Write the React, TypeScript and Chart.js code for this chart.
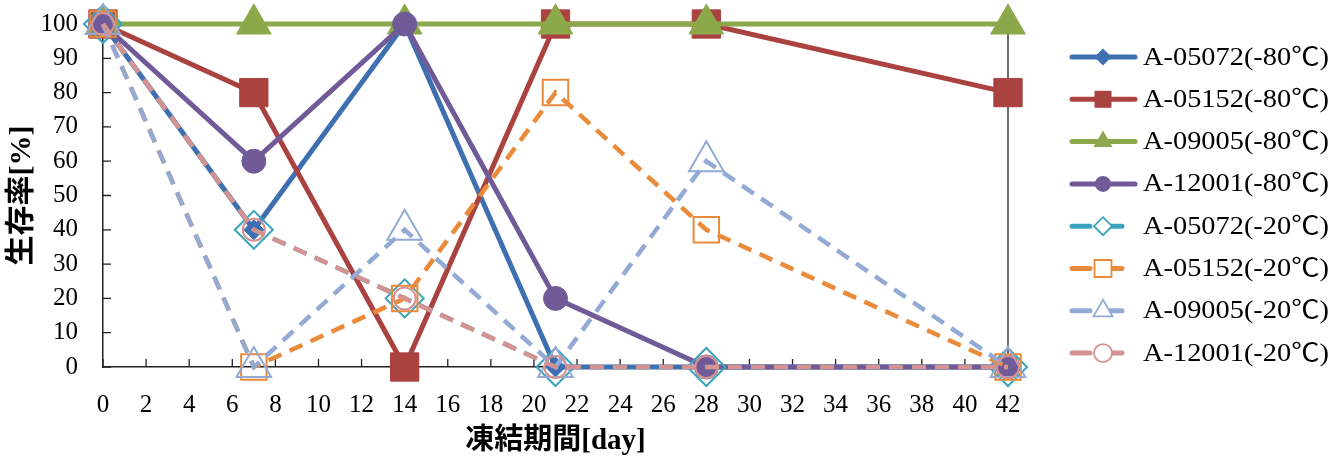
import React, { useEffect, useRef } from "react";
import { Chart, registerables } from "chart.js";

Chart.register(...registerables);

// ---- data ----
const days = [0, 7, 14, 21, 28, 42];
const seriesNames = [
  "A-05072(-80℃)",
  "A-05152(-80℃)",
  "A-09005(-80℃)",
  "A-12001(-80℃)",
  "A-05072(-20℃)",
  "A-05152(-20℃)",
  "A-09005(-20℃)",
  "A-12001(-20℃)",
];
const a05072m80 = [100, 40, 100, 0, 0, 0];
const a05152m80 = [100, 80, 0, 100, 100, 80];
const a09005m80 = [100, 100, 100, 100, 100, 100];
const a12001m80 = [100, 60, 100, 20, 0, 0];
const a05072m20 = [100, 40, 20, 0, 0, 0];
const a05152m20 = [100, 0, 20, 80, 40, 0];
const a09005m20 = [100, 0, 40, 0, 60, 0];
const a12001m20 = [100, 40, 20, 0, 0, 0];
const seriesValues = [a05072m80, a05152m80, a09005m80, a12001m80, a05072m20, a05152m20, a09005m20, a12001m20];

const xTitle = "凍結期間[day]";
const yTitle = "生存率[%]";

// ---- styles ----
const colors = ["#3E6FB0", "#AA4240", "#8BA94A", "#705A97", "#3AA3BD", "#E98B3A", "#93AAD5", "#D59290"];
const pointStyles = ["rectRot", "rect", "triangle", "circle", "rectRot", "rect", "triangle", "circle"];
const pointRadii = [10, 20, 20, 12, 19, 18, 20, 11];
const legendRadii = [8.5, 12, 11, 8, 9, 12, 11, 9];
const dashed = [false, false, false, false, true, true, true, true];

const FONT = "'Liberation Serif', 'Noto Sans CJK JP', serif";

function drawMarker(ctx: CanvasRenderingContext2D, style: string, x: number, y: number, r: number, color: string, filled: boolean) {
  ctx.beginPath();
  if (style === "circle") {
    ctx.arc(x, y, r, 0, Math.PI * 2);
  } else if (style === "rect") {
    const s = Math.SQRT1_2 * r;
    ctx.rect(x - s, y - s, 2 * s, 2 * s);
  } else if (style === "rectRot") {
    ctx.moveTo(x, y - r);
    ctx.lineTo(x + r, y);
    ctx.lineTo(x, y + r);
    ctx.lineTo(x - r, y);
    ctx.closePath();
  } else if (style === "triangle") {
    const a = (2 * Math.PI) / 3;
    for (let k = 0; k < 3; k++) {
      const px = x + Math.sin(k * a) * r;
      const py = y - Math.cos(k * a) * r;
      if (k === 0) ctx.moveTo(px, py);
      else ctx.lineTo(px, py);
    }
    ctx.closePath();
  }
  if (filled) {
    ctx.fillStyle = color;
    ctx.fill();
  } else {
    ctx.fillStyle = "#ffffff";
    ctx.fill();
    ctx.lineWidth = 1.8;
    ctx.strokeStyle = color;
    ctx.stroke();
  }
}

const frameAndTicks = {
  id: "frameAndTicks",
  beforeDatasetsDraw(chart: any) {
    const { ctx, chartArea, scales } = chart;
    const x = scales.x;
    const y = scales.y;
    ctx.save();
    ctx.strokeStyle = "#222";
    ctx.lineWidth = 1.3;
    ctx.beginPath();
    x.ticks.forEach((t: any) => {
      const px = x.getPixelForValue(t.value);
      ctx.moveTo(px, chartArea.bottom);
      ctx.lineTo(px, chartArea.bottom - 8);
    });
    y.ticks.forEach((t: any) => {
      const py = y.getPixelForValue(t.value);
      ctx.moveTo(chartArea.left, py);
      ctx.lineTo(chartArea.left + 8, py);
    });
    ctx.moveTo(chartArea.left, chartArea.top);
    ctx.lineTo(chartArea.right, chartArea.top);
    ctx.lineTo(chartArea.right, chartArea.bottom);
    ctx.stroke();
    ctx.restore();
  },
};

const customLegend = {
  id: "customLegend",
  afterDraw(chart: any) {
    const { ctx } = chart;
    ctx.save();
    const x0 = 1070;
    const x1solid = 1137;
    const x1dash = 1122;
    const mx = 1103;
    const tx = 1143;
    const textW = 186;
    seriesNames.forEach((name, i) => {
      const yy = 57 + i * 42.3;
      ctx.save();
      ctx.strokeStyle = colors[i];
      ctx.lineWidth = 5;
      ctx.lineCap = "round";
      ctx.beginPath();
      if (dashed[i]) {
        ctx.setLineDash([18, 14]);
        ctx.moveTo(x0 + 2, yy);
        ctx.lineTo(x1dash, yy);
      } else {
        ctx.moveTo(x0 + 2, yy);
        ctx.lineTo(x1solid - 2, yy);
      }
      ctx.stroke();
      ctx.restore();
      ctx.save();
      ctx.setLineDash([]);
      drawMarker(ctx, pointStyles[i], mx, yy, legendRadii[i], colors[i], !dashed[i]);
      ctx.restore();
      ctx.save();
      ctx.font = `25px ${FONT}`;
      ctx.fillStyle = "#000";
      ctx.textBaseline = "middle";
      const w = ctx.measureText(name).width;
      ctx.translate(tx, yy + 1);
      ctx.scale(textW / w, 1);
      ctx.fillText(name, 0, 0);
      ctx.restore();
    });
    ctx.restore();
  },
};

export default function App() {
  const ref = useRef<HTMLCanvasElement | null>(null);
  useEffect(() => {
    document.body.style.margin = "0";
    const canvas = ref.current;
    if (!canvas) return;
    const datasets = seriesNames.map((name, i) => ({
      label: name,
      data: days.map((d, j) => ({ x: d, y: seriesValues[i][j] })),
      borderColor: colors[i],
      backgroundColor: colors[i],
      borderWidth: dashed[i] ? 4.5 : 5,
      borderDash: dashed[i] ? [14, 9] : [],
      pointStyle: pointStyles[i],
      pointRadius: pointRadii[i],
      pointHoverRadius: pointRadii[i],
      pointBackgroundColor: dashed[i] ? "rgba(255,255,255,0)" : colors[i],
      pointBorderColor: colors[i],
      pointBorderWidth: dashed[i] ? 2 : 1,
      tension: 0,
      clip: false as any,
      order: 8 - i,
    }));
    const chart = new Chart(canvas, {
      type: "line",
      data: { datasets: datasets as any },
      options: {
        animation: false,
        responsive: false,
        events: [],
        layout: { autoPadding: false, padding: { top: 24, right: 336, left: 0, bottom: 0 } },
        plugins: { legend: { display: false }, tooltip: { enabled: false } },
        scales: {
          x: {
            type: "linear",
            min: 0,
            max: 42,
            ticks: { stepSize: 2, color: "#000", font: { family: FONT, size: 25 }, padding: 23, maxRotation: 0, autoSkip: false },
            grid: { display: false, drawTicks: false },
            border: { display: true, color: "#222", width: 1.5 },
            title: { display: true, text: xTitle, color: "#000", font: { family: FONT, size: 29, weight: "bold" }, padding: { bottom: 5, top: 0 } },
            afterFit: (s: any) => { s.height = 97; s.paddingLeft = 0; s.paddingRight = 0; },
          },
          y: {
            min: 0,
            max: 100,
            ticks: { stepSize: 10, color: "#000", font: { family: FONT, size: 25 }, padding: 25, autoSkip: false },
            grid: { display: false, drawTicks: false },
            border: { display: true, color: "#222", width: 1.5 },
            title: { display: true, text: yTitle, color: "#000", font: { family: FONT, size: 30, weight: "bold" }, padding: { top: 4, bottom: 0 } },
            afterFit: (s: any) => { s.width = 103; s.paddingTop = 0; s.paddingBottom = 0; },
          },
        },
      },
      plugins: [frameAndTicks, customLegend],
    });
    return () => chart.destroy();
  }, []);
  return (
    <div style={{ width: 1344, height: 464, background: "#fff" }}>
      <canvas ref={ref} width={1344} height={464} style={{ display: "block" }} />
    </div>
  );
}
